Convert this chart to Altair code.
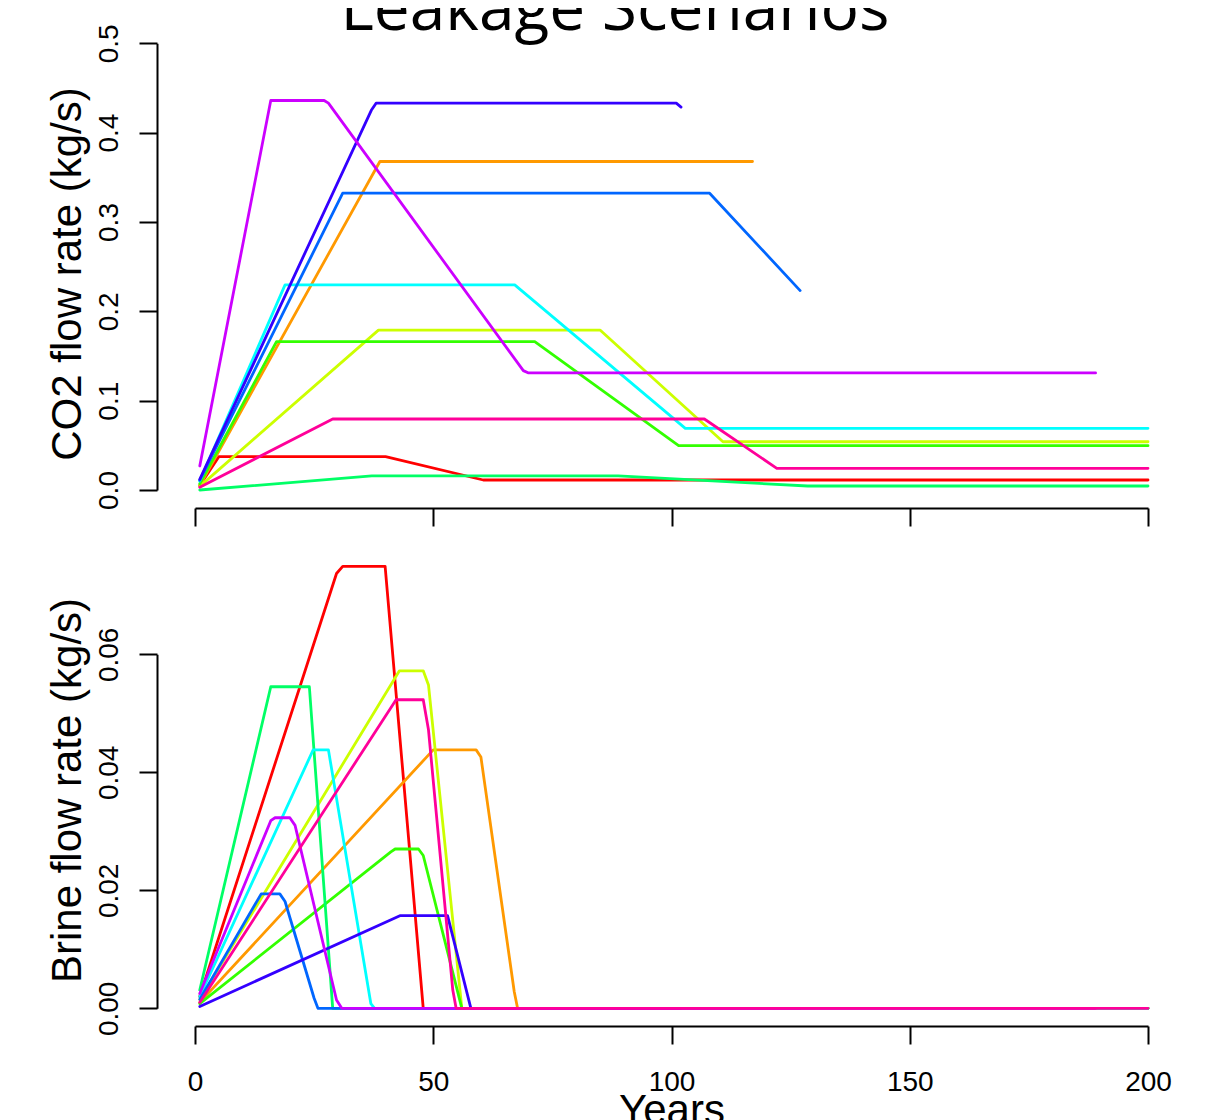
import altair as alt
import pandas as pd

# ---------------- data ----------------
series_names = [f"Scenario {i}" for i in range(1, 11)]
series_colors = ["#FF0000", "#FF9900", "#CCFF00", "#33FF00", "#00FF66",
                 "#00FFFF", "#0066FF", "#3300FF", "#CC00FF", "#FF0099"]

# CO2 flow rate (kg/s) — vertices per scenario
co2_years = [
    [1, 5, 40, 60.5, 200],                 # red
    [1, 38.8, 117],                        # orange
    [1, 38.5, 85, 110.8, 200],             # yellow-green
    [1, 17.1, 71.3, 101.5, 200],           # green
    [1, 37.1, 88.8, 128.6, 200],           # spring green
    [1, 18.9, 67.1, 102.9, 200],           # cyan
    [1, 31.0, 108, 127],                   # blue
    [1, 37, 38, 101, 102],                 # indigo
    [1, 15.9, 27.1, 28, 68.9, 70, 189],    # purple
    [1, 28.9, 106.9, 122.1, 200],          # pink
]
co2_values = [
    [0.005, 0.0373, 0.0373, 0.0112, 0.0112],
    [0.005, 0.3677, 0.3677],
    [0.004, 0.179, 0.179, 0.054, 0.054],
    [0.007, 0.166, 0.166, 0.0496, 0.0496],
    [0.0, 0.0157, 0.0157, 0.0045, 0.0045],
    [0.010, 0.2296, 0.2296, 0.069, 0.069],
    [0.011, 0.3322, 0.3322, 0.2232],
    [0.012, 0.425, 0.433, 0.433, 0.4286],
    [0.0269, 0.436, 0.436, 0.433, 0.1336, 0.131, 0.131],
    [0.003, 0.0795, 0.0795, 0.0243, 0.0243],
]

# Brine flow rate (kg/s) — vertices per scenario
brine_years = [
    [1, 29.7, 31, 39.9, 47.9, 200],
    [1, 50, 59, 60, 67, 67.7, 117],
    [1, 42.9, 47.9, 49, 56, 200],
    [1, 41.1, 42, 46.9, 47.9, 56, 200],
    [1, 15.9, 24, 28.9, 200],
    [1, 24.8, 28, 36.9, 37.7, 200],
    [1, 13.9, 17.8, 18.9, 25, 25.8, 127],
    [1, 43, 53, 57.9, 102],
    [1, 15.9, 16.8, 19.9, 21, 29.7, 30.8, 189],
    [1, 42.2, 47.9, 49, 54.1, 54.8, 200],
]
brine_values = [
    [0.002, 0.0737, 0.0749, 0.0749, 0.0, 0.0],
    [0.001, 0.0438, 0.0438, 0.0426, 0.0028, 0.0, 0.0],
    [0.0015, 0.0572, 0.0572, 0.0548, 0.0, 0.0],
    [0.0008, 0.0265, 0.027, 0.027, 0.0259, 0.0, 0.0],
    [0.0031, 0.0545, 0.0545, 0.0, 0.0],
    [0.002, 0.0438, 0.0438, 0.0008, 0.0, 0.0],
    [0.0015, 0.0194, 0.0194, 0.0181, 0.0017, 0.0, 0.0],
    [0.0003, 0.0157, 0.0157, 0.0, 0.0],
    [0.0025, 0.0318, 0.0323, 0.0323, 0.031, 0.0014, 0.0, 0.0],
    [0.001, 0.0523, 0.0523, 0.0472, 0.0031, 0.0, 0.0],
]

year_ticks = [0, 50, 100, 150, 200]
co2_ticks = [0.0, 0.1, 0.2, 0.3, 0.4, 0.5]
brine_ticks = [0.00, 0.02, 0.04, 0.06]
main_title = ["Leakage Scenarios"]


def long_table(years, values):
    rows = []
    for name, ys, vs in zip(series_names, years, values):
        for i, (y, v) in enumerate(zip(ys, vs)):
            rows.append({"series": name, "year": y, "value": v, "idx": i})
    return pd.DataFrame(rows)


co2_df = long_table(co2_years, co2_values)
brine_df = long_table(brine_years, brine_values)
title_df = pd.DataFrame({"label": main_title})

# ---------------- scales / axes ----------------
x_scale = alt.Scale(domain=[0, 200], range=[38, 991], nice=False, zero=False)
co2_scale = alt.Scale(domain=[0, 0.5], range=[482, 35.3], nice=False, zero=False)
brine_scale = alt.Scale(domain=[0, 0.06], range=[1000.3, 646.3], nice=False, zero=False)
color_scale = alt.Scale(domain=series_names, range=series_colors)

common = dict(domainColor="black", domainWidth=2, tickColor="black", tickWidth=2,
              tickSize=18, grid=False, labelFont="Liberation Sans", labelFontSize=28,
              labelColor="black", labelOverlap=False, labelFlush=False,
              titleFont="Liberation Sans", titleFontSize=42, titleColor="black",
              titleFontWeight="normal")

y_common = dict(orient="left", titleX=-77, titleAngle=270, titleAlign="center",
                titleBaseline="alphabetic", labelAngle=270, labelAlign="center",
                labelBaseline="alphabetic", labelPadding=22)

line_kw = dict(strokeWidth=2.8, strokeCap="round", strokeJoin="round")

co2_lines = alt.Chart(co2_df).mark_line(**line_kw).encode(
    x=alt.X("year:Q", scale=x_scale,
            axis=alt.Axis(orient="bottom", offset=-518, values=year_ticks,
                          labels=False, title=None, **common)),
    y=alt.Y("value:Q", scale=co2_scale,
            axis=alt.Axis(values=co2_ticks, format=".1f",
                          title="CO2 flow rate (kg/s)", titleY=265.5,
                          **y_common, **common)),
    color=alt.Color("series:N", scale=color_scale, legend=None),
    order=alt.Order("idx:Q"),
)

brine_lines = alt.Chart(brine_df).mark_line(**line_kw).encode(
    x=alt.X("year:Q", scale=x_scale,
            axis=alt.Axis(orient="bottom", values=year_ticks, format="d",
                          title="Years", titleY=97, titleBaseline="alphabetic",
                          labelBaseline="alphabetic", labelPadding=46, **common)),
    y=alt.Y("value:Q", scale=brine_scale,
            axis=alt.Axis(values=brine_ticks, format=".2f",
                          title="Brine flow rate (kg/s)", titleY=782,
                          **y_common, **common)),
    color=alt.Color("series:N", scale=color_scale, legend=None),
    order=alt.Order("idx:Q"),
)

title_text = alt.Chart(title_df).mark_text(
    font="Open Sans", fontSize=64, color="black", align="center",
    baseline="alphabetic",
).encode(
    text="label:N",
    x=alt.value(458),
    y=alt.value(22),
)

chart = alt.layer(co2_lines, brine_lines, title_text).resolve_scale(
    x="independent", y="independent"
).resolve_axis(
    x="independent", y="independent"
).properties(
    width=1029,
    height=1018,
    padding={"left": 149, "top": 0, "right": 19, "bottom": 94},
    autosize=alt.AutoSizeParams(type="none"),
    background="white",
).configure_view(stroke=None)

chart.save("out.html", embed_options={"renderer": "svg", "actions": False})
